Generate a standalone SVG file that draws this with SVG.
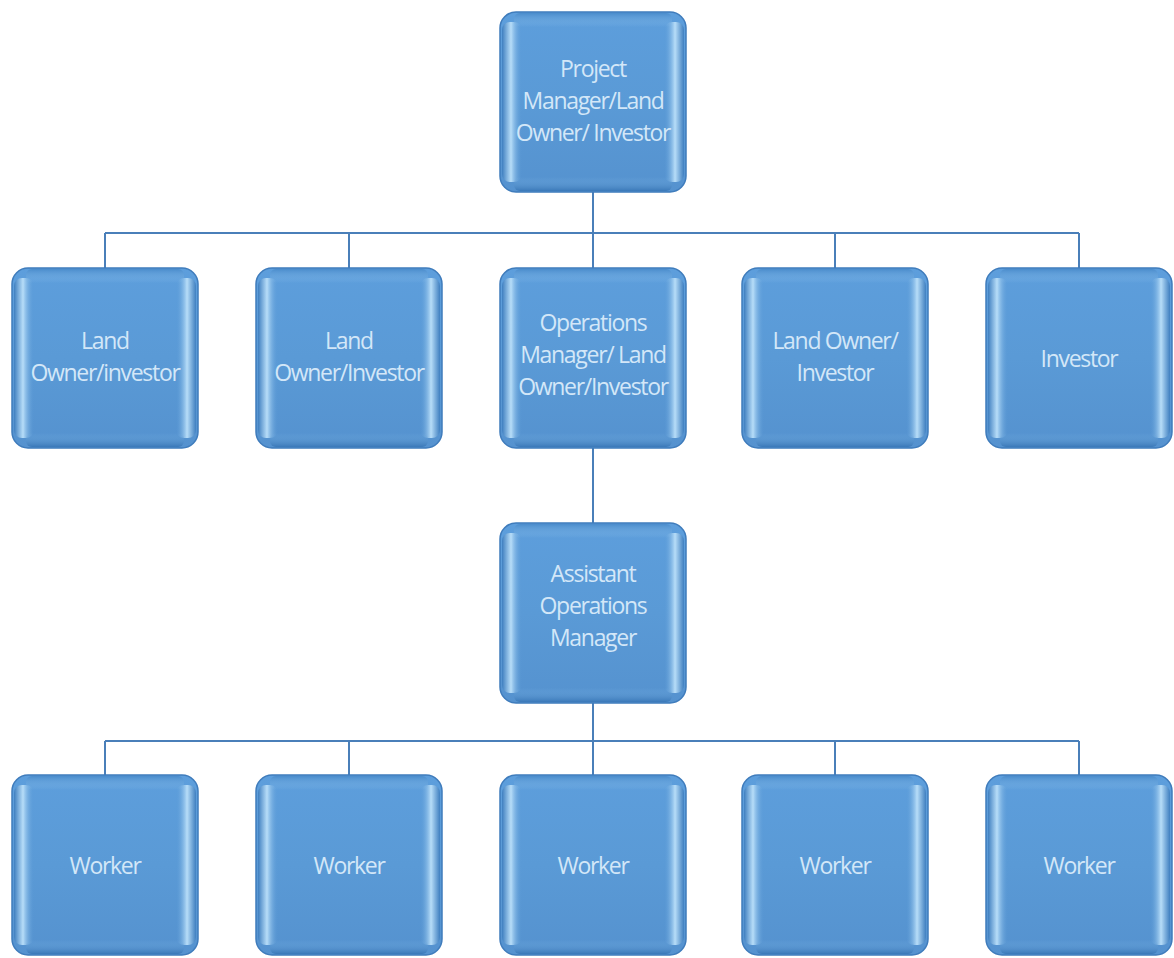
<svg xmlns="http://www.w3.org/2000/svg" width="1174" height="958" viewBox="0 0 1174 958">
<defs>
<linearGradient id="body" x1="0" y1="0" x2="0" y2="1">
<stop offset="0" stop-color="#5d9edc"/>
<stop offset="0.5" stop-color="#5a9ad6"/>
<stop offset="1" stop-color="#5592cf"/>
</linearGradient>
<linearGradient id="edgeL" x1="0" y1="0" x2="1" y2="0">
<stop offset="0" stop-color="#3f7fc0"/>
<stop offset="0.45" stop-color="#b7ddf8"/>
<stop offset="1" stop-color="#5a9ad6" stop-opacity="0"/>
</linearGradient>
<linearGradient id="edgeR" x1="1" y1="0" x2="0" y2="0">
<stop offset="0" stop-color="#3f7fc0"/>
<stop offset="0.45" stop-color="#b7ddf8"/>
<stop offset="1" stop-color="#5a9ad6" stop-opacity="0"/>
</linearGradient>
<linearGradient id="edgeT" x1="0" y1="0" x2="0" y2="1">
<stop offset="0" stop-color="#4a8ccc"/>
<stop offset="1" stop-color="#8fc3ee" stop-opacity="0"/>
</linearGradient>
<linearGradient id="edgeB" x1="0" y1="1" x2="0" y2="0">
<stop offset="0" stop-color="#3a78b8"/>
<stop offset="1" stop-color="#7ab4e6" stop-opacity="0"/>
</linearGradient>
<g id="box">
<rect x="0" y="0" width="186" height="180" rx="16" fill="url(#body)" stroke="#3f7cbc" stroke-width="1.5"/>
<rect x="2" y="10" width="20" height="160" rx="8" fill="url(#edgeL)"/>
<rect x="164" y="10" width="20" height="160" rx="8" fill="url(#edgeR)"/>
<rect x="14" y="1" width="158" height="14" rx="6" fill="url(#edgeT)"/>
<rect x="14" y="165" width="158" height="14" rx="6" fill="url(#edgeB)"/>
</g>
</defs>
<style>
.lbl { font-family: "Open Sans", "Liberation Sans", sans-serif; font-size: 23px; fill: #d3e7f8; text-anchor: middle; letter-spacing: -1.3px; }
.conn { stroke: #4a7fb9; stroke-width: 2; fill: none; }
</style>
<rect width="1174" height="958" fill="#ffffff"/>
<g id="connectors">
<path class="conn" d="M593 192 V268"/>
<path class="conn" d="M105 233 H1079"/>
<path class="conn" d="M105 233 V268 M349 233 V268 M835 233 V268 M1079 233 V268"/>
<path class="conn" d="M593 446 V523"/>
<path class="conn" d="M593 703 V775"/>
<path class="conn" d="M105 741 H1079"/>
<path class="conn" d="M105 741 V775 M349 741 V775 M593 741 V775 M835 741 V775 M1079 741 V775"/>
</g>
<g id="n-project"><use href="#box" x="500" y="12"/>
<text class="lbl" x="593" y="77">Project</text><text class="lbl" x="593" y="109">Manager/Land</text><text class="lbl" x="593" y="141">Owner/ Investor</text></g>
<g id="n-land1"><use href="#box" x="12" y="268"/>
<text class="lbl" x="105" y="349">Land</text><text class="lbl" x="105" y="381">Owner/investor</text></g>
<g id="n-land2"><use href="#box" x="256" y="268"/>
<text class="lbl" x="349" y="349">Land</text><text class="lbl" x="349" y="381">Owner/Investor</text></g>
<g id="n-ops"><use href="#box" x="500" y="268"/>
<text class="lbl" x="593" y="331">Operations</text><text class="lbl" x="593" y="363">Manager/ Land</text><text class="lbl" x="593" y="395">Owner/Investor</text></g>
<g id="n-land3"><use href="#box" x="742" y="268"/>
<text class="lbl" x="835" y="349">Land Owner/</text><text class="lbl" x="835" y="381">Investor</text></g>
<g id="n-investor"><use href="#box" x="986" y="268"/>
<text class="lbl" x="1079" y="367">Investor</text></g>
<g id="n-assistant"><use href="#box" x="500" y="523"/>
<text class="lbl" x="593" y="582">Assistant</text><text class="lbl" x="593" y="614">Operations</text><text class="lbl" x="593" y="646">Manager</text></g>
<g id="n-w1"><use href="#box" x="12" y="775"/><text class="lbl" x="105" y="874">Worker</text></g>
<g id="n-w2"><use href="#box" x="256" y="775"/><text class="lbl" x="349" y="874">Worker</text></g>
<g id="n-w3"><use href="#box" x="500" y="775"/><text class="lbl" x="593" y="874">Worker</text></g>
<g id="n-w4"><use href="#box" x="742" y="775"/><text class="lbl" x="835" y="874">Worker</text></g>
<g id="n-w5"><use href="#box" x="986" y="775"/><text class="lbl" x="1079" y="874">Worker</text></g>
</svg>
